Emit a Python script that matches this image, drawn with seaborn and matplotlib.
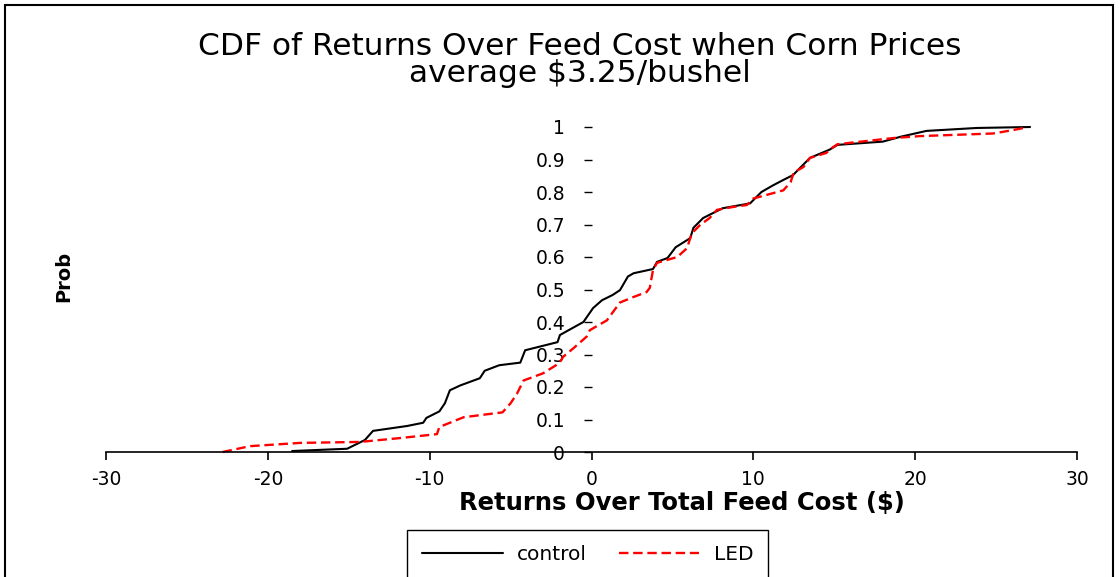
import matplotlib
matplotlib.use('Agg')
import matplotlib.pyplot as plt
from matplotlib.patches import Rectangle
import pandas as pd
import seaborn as sns

# CDF points (returns $, cumulative prob)
control_x = [-18.5, -15.1, -14.0, -13.5, -11.4, -10.4, -10.2, -9.4, -9.06, -8.75,
             -8.1, -6.9, -6.6, -5.7, -4.4, -4.1, -2.1, -1.95, -0.5, 0.1,
             0.65, 1.3, 1.76, 2.25, 2.6, 3.8, 4.05, 4.7, 5.2, 6.1,
             6.3, 6.9, 8.1, 9.8, 10.5, 11.2, 11.85, 12.45, 13.5, 14.7,
             15.2, 18.0, 19.1, 20.7, 23.8, 27.1]
control_p = [0.003, 0.01, 0.037, 0.065, 0.08, 0.09, 0.105, 0.125, 0.15, 0.19,
             0.205, 0.227, 0.25, 0.267, 0.275, 0.313, 0.338, 0.36, 0.40, 0.443,
             0.467, 0.483, 0.498, 0.54, 0.55, 0.563, 0.585, 0.597, 0.63, 0.658,
             0.69, 0.72, 0.75, 0.765, 0.80, 0.82, 0.837, 0.852, 0.905, 0.93,
             0.945, 0.955, 0.97, 0.988, 0.997, 1.0]

led_x = [-22.8, -21.1, -18.0, -14.3, -11.8, -9.55, -9.4, -7.9, -5.5, -5.0,
         -4.6, -4.2, -3.0, -2.0, -1.75, -1.1, -0.3, -0.1, 0.95, 1.76,
         2.6, 3.4, 3.6, 3.8, 4.05, 5.3, 5.9, 6.2, 6.7, 7.3,
         7.75, 8.75, 9.6, 10.0, 11.85, 12.3, 12.5, 13.1, 13.5, 14.5,
         14.9, 15.2, 18.65, 20.3, 24.8, 26.0, 26.7]
led_p = [0.0, 0.018, 0.028, 0.031, 0.043, 0.055, 0.077, 0.107, 0.122, 0.15,
         0.18, 0.22, 0.242, 0.273, 0.293, 0.32, 0.355, 0.375, 0.405, 0.46,
         0.477, 0.492, 0.505, 0.56, 0.582, 0.60, 0.627, 0.673, 0.698, 0.72,
         0.745, 0.754, 0.76, 0.78, 0.805, 0.83, 0.86, 0.877, 0.905, 0.92,
         0.937, 0.947, 0.966, 0.972, 0.98, 0.99, 0.997]

x_ticks = [-30, -20, -10, 0, 10, 20, 30]
y_ticks = [0, 0.1, 0.2, 0.3, 0.4, 0.5, 0.6, 0.7, 0.8, 0.9, 1]
y_tick_labels = ['0', '0.1', '0.2', '0.3', '0.4', '0.5', '0.6', '0.7', '0.8', '0.9', '1']

sns.set_theme(style='white')
plt.rcParams['font.family'] = ['DejaVu Sans']
plt.rcParams['text.color'] = 'black'
plt.rcParams['xtick.color'] = 'black'
plt.rcParams['ytick.color'] = 'black'

fig = plt.figure(figsize=(11.2, 5.77), dpi=100)
ax = fig.add_axes([106/1120, 1-452/577, 971/1120, 325/577])

ctrl = pd.DataFrame({'x': control_x, 'p': control_p})
led = pd.DataFrame({'x': led_x, 'p': led_p})

sns.lineplot(data=ctrl, x='x', y='p', sort=False, estimator=None, ax=ax,
             color='black', linewidth=1.5, label='control', clip_on=False)
sns.lineplot(data=led, x='x', y='p', sort=False, estimator=None, ax=ax,
             color='#ff0000', linewidth=1.7, dashes=(4, 2), label='LED', clip_on=False)

ax.set_xlim(-30, 30)
ax.set_ylim(0, 1)
ax.set_xticks(x_ticks)
ax.set_xticklabels([str(t) for t in x_ticks])
ax.set_yticks(y_ticks)
ax.set_yticklabels(y_tick_labels)

# excel style: axes cross at zero, no frame
for s in ['top', 'right']:
    ax.spines[s].set_visible(False)
ax.spines['bottom'].set_color('black')
ax.spines['bottom'].set_linewidth(1.2)
ax.spines['left'].set_position(('data', 0))
ax.spines['left'].set_visible(False)
ax.tick_params(axis='x', direction='out', length=6, width=1.2,
               pad=7, labelsize=13.5, bottom=True)
ax.tick_params(axis='y', direction='out', length=6, width=1,
               pad=13, labelsize=13.5, left=True)
ax.set_xlabel('')
ax.set_ylabel('')
ax.grid(False)

fig.text(580/1120, 1-60/577, 'CDF of Returns Over Feed Cost when Corn Prices\naverage $3.25/bushel',
         ha='center', va='center', fontsize=22.5, linespacing=0.88)
fig.text(682/1120, 1-503/577, 'Returns Over Total Feed Cost ($)',
         ha='center', va='center', fontsize=17.5, fontweight='bold')
fig.text(64/1120, 1-276/577, 'Prob', ha='center', va='center', rotation=90,
         fontsize=14, fontweight='bold')

leg = ax.legend(loc='upper left', bbox_to_anchor=(407/1120, 1-530/577),
                bbox_transform=fig.transFigure, borderaxespad=0, ncol=2,
                frameon=True, fancybox=False, framealpha=1, fontsize=14.5,
                handlelength=4.0, columnspacing=1.6, borderpad=0.75,
                handletextpad=0.7)
leg.get_frame().set_edgecolor('black')
leg.get_frame().set_linewidth(1.0)

# outer chart border
fig.patches.append(Rectangle((5/1120, -0.05), 1108/1120, 1.05-5/577, transform=fig.transFigure,
                             fill=False, edgecolor='black', linewidth=1.5))

fig.savefig('out.png', dpi=100)
